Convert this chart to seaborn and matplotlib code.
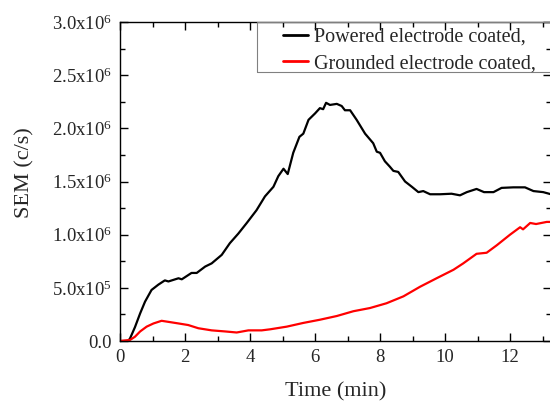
import numpy as np
import pandas as pd
import matplotlib
matplotlib.use("Agg")
import matplotlib.pyplot as plt
import seaborn as sns
from matplotlib.ticker import MultipleLocator, FuncFormatter
from matplotlib.patches import Rectangle
from matplotlib.lines import Line2D

# ---- data (values in counts/s) ----
t_powered = [0, 0.25, 0.31, 0.46, 0.62, 0.77, 0.97, 1.18, 1.38, 1.49, 1.8, 1.9, 2.2, 2.36,
             2.62, 2.82, 3.13, 3.38, 3.64, 3.9, 4.2, 4.46, 4.72, 4.87, 5.03, 5.16, 5.33,
             5.52, 5.64, 5.8, 6.0, 6.15, 6.25, 6.34, 6.46, 6.67, 6.82, 6.92, 7.08, 7.28,
             7.54, 7.79, 7.9, 8.0, 8.15, 8.3, 8.41, 8.56, 8.77, 8.98, 9.18, 9.33, 9.54,
             9.85, 10.2, 10.46, 10.67, 10.97, 11.2, 11.49, 11.74, 12.1, 12.46, 12.72,
             13.02, 13.26]
v_powered = [0, 0, 0.025, 0.13, 0.26, 0.37, 0.48, 0.53, 0.57, 0.56, 0.59, 0.58, 0.64, 0.64,
             0.70, 0.73, 0.81, 0.92, 1.01, 1.11, 1.23, 1.36, 1.45, 1.55, 1.62, 1.57, 1.77,
             1.92, 1.95, 2.08, 2.14, 2.19, 2.18, 2.24, 2.22, 2.23, 2.21, 2.17, 2.17, 2.08,
             1.95, 1.86, 1.78, 1.77, 1.69, 1.64, 1.60, 1.59, 1.50, 1.45, 1.40, 1.41, 1.38,
             1.38, 1.385, 1.37, 1.40, 1.43, 1.40, 1.40, 1.44, 1.445, 1.445, 1.41,
             1.40, 1.38]
t_grounded = [0, 0.31, 0.46, 0.62, 0.82, 1.03, 1.28, 1.49, 1.8, 2.1, 2.41, 2.82, 3.23, 3.59,
              3.95, 4.36, 4.62, 5.13, 5.64, 6.15, 6.67, 7.18, 7.69, 8.2, 8.72, 9.23, 9.74,
              10.26, 10.56, 10.97, 11.28, 11.59, 12.0, 12.31, 12.4, 12.62, 12.8, 13.13, 13.26]
v_grounded = [0, 0.01, 0.04, 0.09, 0.135, 0.165, 0.19, 0.18, 0.165, 0.15, 0.12, 0.10, 0.09,
              0.08, 0.10, 0.10, 0.11, 0.135, 0.17, 0.20, 0.235, 0.28, 0.31, 0.355, 0.42,
              0.51, 0.59, 0.67, 0.73, 0.82, 0.83, 0.90, 1.00, 1.07, 1.05, 1.11, 1.10, 1.12,
              1.12]
series_labels = ["Powered electrode coated,", "Grounded electrode coated,"]
y_ticks = [0, 0.5e6, 1.0e6, 1.5e6, 2.0e6, 2.5e6, 3.0e6]

df = pd.concat([
    pd.DataFrame({"t": t_powered, "v": np.array(v_powered) * 1e6, "s": series_labels[0]}),
    pd.DataFrame({"t": t_grounded, "v": np.array(v_grounded) * 1e6, "s": series_labels[1]}),
], ignore_index=True)

sns.set_style("ticks")
plt.rcParams["font.family"] = ["Liberation Serif", "DejaVu Serif"]
plt.rcParams["mathtext.fontset"] = "custom"
plt.rcParams["mathtext.rm"] = "Liberation Serif"
plt.rcParams["mathtext.it"] = "Liberation Serif"

fig = plt.figure(figsize=(5.5, 4.01), dpi=100)
W, H = 550, 401
ax = fig.add_axes([120 / W, (H - 341) / H, (551 - 120) / W, (341 - 22) / H])

sns.lineplot(data=df, x="t", y="v", hue="s", palette=["black", "red"],
             linewidth=1.6, ax=ax, legend=False, estimator=None, sort=False)

ax.set_xlim(0, 13.26)
ax.set_ylim(0, 3.0e6)
ax.xaxis.set_major_locator(MultipleLocator(2))
ax.xaxis.set_minor_locator(MultipleLocator(1))
ax.set_yticks(y_ticks)
ax.yaxis.set_minor_locator(MultipleLocator(0.25e6))


def fmt(v, pos):
    if v == 0:
        return "0.0"
    e = int(np.floor(np.log10(v)))
    m = v / 10 ** e
    return f"{m:.1f}x10$^{{{e}}}$"


ax.yaxis.set_major_formatter(FuncFormatter(fmt))
ax.tick_params(which="both", direction="in", top=True, right=True, color="black", width=1)
ax.tick_params(which="major", length=6, labelsize=13.5, pad=6)
ax.tick_params(which="minor", length=3.5)
for s in ax.spines.values():
    s.set_color("black")
    s.set_linewidth(1.0)

ax.set_xlabel("Time (min)", fontsize=16)
ax.set_ylabel("SEM (c/s)", fontsize=16)
ax.xaxis.set_label_coords(0.5, (341 - 382) / 319)
ax.yaxis.set_label_coords((34 - 120) / 431, (341 - 173) / 319)

# legend
handles = [Line2D([], [], color="black", lw=2), Line2D([], [], color="red", lw=2)]
ax.add_patch(Rectangle(((257 - 120) / 431, (341 - 71.5) / 319), 1.0, 1 - (341 - 71.5) / 319,
                       transform=ax.transAxes, fill=False, edgecolor="#808080", lw=0.8,
                       clip_on=False, zorder=5))
ax.legend(handles, series_labels, loc="upper left",
          bbox_to_anchor=((283 - 120) / 431, (341 - 27.5) / 319),
          frameon=False, borderpad=0, borderaxespad=0, handlelength=1.25,
          handletextpad=0.3, labelspacing=0.37, fontsize=14.5)

fig.savefig("out.png", dpi=100)
